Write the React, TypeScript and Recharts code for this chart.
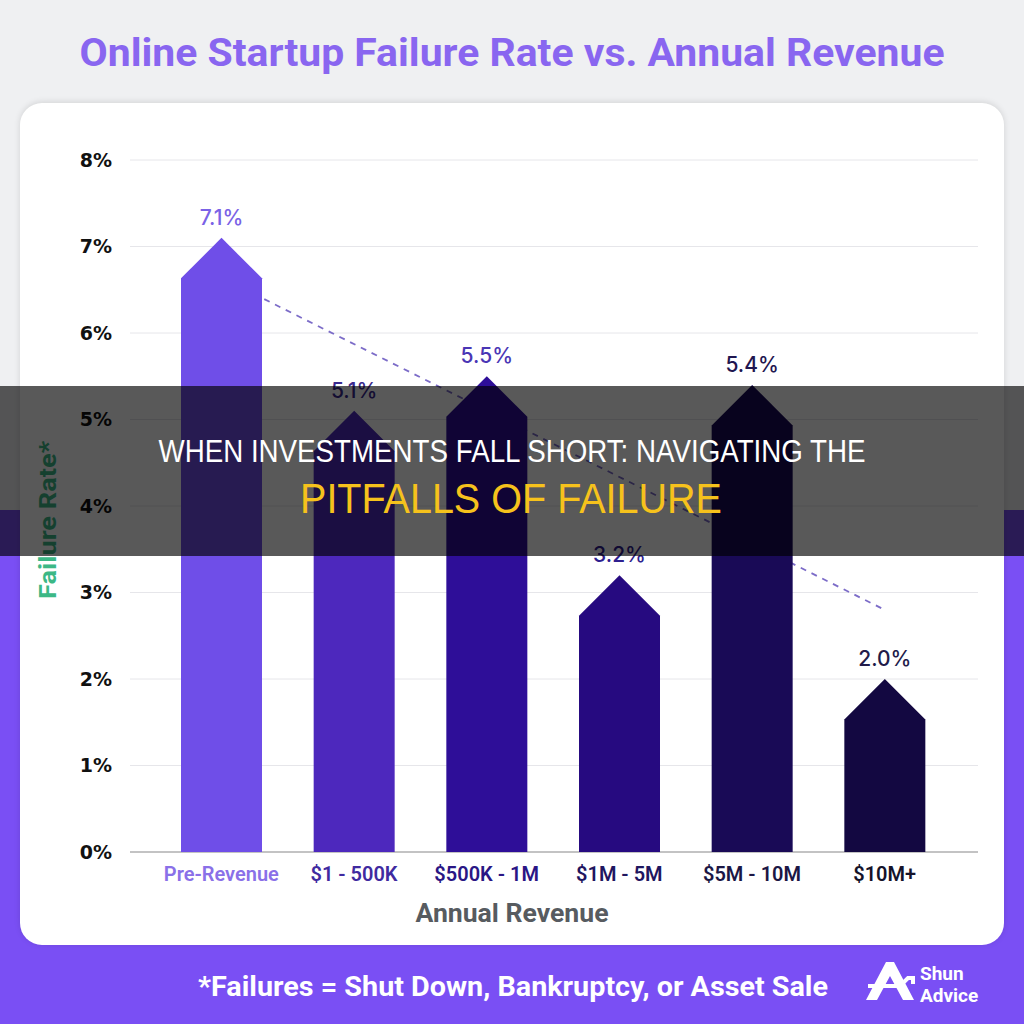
import {
  Bar,
  CartesianGrid,
  ComposedChart,
  LabelList,
  Line,
  XAxis,
  YAxis
} from 'recharts';

const categories = ['Pre-Revenue', '$1 - 500K', '$500K - 1M', '$1M - 5M', '$5M - 10M', '$10M+'];
const failureRates = [7.1, 5.1, 5.5, 3.2, 5.4, 2.0];
const trendValues = [6.64, null, null, null, null, 2.8];
const yTicks = [0, 1, 2, 3, 4, 5, 6, 7, 8];

const barColors = ['#6f4ee8', '#4d28bd', '#2e0e98', '#260a80', '#190a56', '#130841'];
const valueColors = ['#7a62e6', '#3b2a8f', '#4a36b5', '#2f1f90', '#1f1650', '#221b4a'];
const tickColors = ['#8a70e8', '#3f2aa0', '#2a1685', '#1f1660', '#1c1745', '#15132a'];

const data = categories.map((name, i) => ({
  name,
  rate: failureRates[i],
  trend: trendValues[i]
}));

const chartMargin = { top: 160, right: 46, bottom: 38, left: 0 };
const xPadding = { left: 25, right: 27 };

const ArrowBar = (props: any) => {
  const { x, y, width, height, index } = props;
  if (!width || height == null) return null;
  const half = width / 2;
  const bottom = y + height;
  const d = `M${x},${bottom} L${x},${y + half} L${x + half},${y} L${x + width},${y + half} L${x + width},${bottom} Z`;
  return <path d={d} fill={barColors[index]} />;
};

const ValueLabel = (props: any) => {
  const { x, y, width, value, index } = props;
  return (
    <text
      x={x + width / 2}
      y={y - 13}
      textAnchor="middle"
      fill={valueColors[index]}
      fontSize={21}
      fontWeight={500}
      fontFamily="Inter, sans-serif"
    >
      {Number(value).toFixed(1)}%
    </text>
  );
};

const CategoryTick = (props: any) => {
  const { x, y, payload, index } = props;
  return (
    <text
      x={x}
      y={y + 29}
      textAnchor="middle"
      fill={tickColors[index]}
      fontSize={20}
      fontWeight={600}
      fontFamily="Roboto, sans-serif"
    >
      {payload.value}
    </text>
  );
};

export default function App() {
  return (
    <div
      style={{
        position: 'absolute',
        left: 0,
        top: 0,
        width: 1024,
        height: 1024,
        overflow: 'hidden',
        background: 'linear-gradient(#eff0f2 0px, #eff0f2 510px, #7a4ff4 510px)'
      }}
    >
      <div
        style={{
          position: 'absolute',
          left: 20,
          top: 103,
          width: 984,
          height: 842,
          background: '#fff',
          borderRadius: 22,
          boxShadow: '0 -1px 6px rgba(0,0,0,0.12)'
        }}
      />
      {/* axes, grid and the trend line sit below the bars */}
      <div style={{ position: 'absolute', left: 0, top: 0 }}>
        <ComposedChart width={1024} height={960} data={data} margin={chartMargin}>
          <CartesianGrid vertical={false} stroke="#e6e6ea" />
          <YAxis
            width={130}
            domain={[0, 8]}
            ticks={yTicks}
            interval={0}
            tickFormatter={(v) => `${v}%`}
            axisLine={false}
            tickLine={false}
            tickSize={0}
            tickMargin={18}
            tick={{ fill: '#111', fontSize: 19, fontWeight: 700, fontFamily: 'DejaVu Sans' }}
            label={{
              content: (p: any) => {
                const vb = p.viewBox;
                const cy = vb.y + vb.height / 2 + 14;
                return (
                  <text
                    x={48}
                    y={cy}
                    transform={`rotate(-90, 48, ${cy})`}
                    textAnchor="middle"
                    dominantBaseline="central"
                    fill="#3cb886"
                    fontSize={24}
                    fontWeight={700}
                    fontFamily="Roboto, sans-serif"
                    textLength={158}
                    lengthAdjust="spacingAndGlyphs"
                  >
                    Failure Rate*
                  </text>
                );
              }
            }}
          />
          <XAxis
            dataKey="name"
            scale="band"
            height={70}
            interval={0}
            padding={xPadding}
            axisLine={{ stroke: '#b3b3b3', strokeWidth: 1.5 }}
            tickLine={false}
            tickSize={0}
            tickMargin={0}
            tick={<CategoryTick />}
            label={{
              content: (p: any) => {
                const vb = p.viewBox;
                return (
                  <text
                    x={512}
                    y={vb.y + 70}
                    textAnchor="middle"
                    fill="#575b60"
                    fontSize={26}
                    fontWeight={700}
                    fontFamily="Roboto, sans-serif"
                    textLength={193}
                    lengthAdjust="spacingAndGlyphs"
                  >
                    Annual Revenue
                  </text>
                );
              }
            }}
          />
          <Bar dataKey="rate" barSize={81} fill="transparent" isAnimationActive={false} />
          <Line
            dataKey="trend"
            connectNulls
            stroke="#7c6cc8"
            strokeWidth={1.8}
            strokeDasharray="6 6"
            dot={false}
            activeDot={false}
            isAnimationActive={false}
          />
        </ComposedChart>
      </div>
      <div style={{ position: 'absolute', left: 0, top: 0 }}>
        <ComposedChart width={1024} height={960} data={data} margin={chartMargin}>
          <YAxis width={130} domain={[0, 8]} ticks={yTicks} axisLine={false} tickLine={false} tick={false} />
          <XAxis
            dataKey="name"
            scale="band"
            height={70}
            padding={xPadding}
            axisLine={false}
            tickLine={false}
            tick={false}
          />
          <Bar dataKey="rate" barSize={81} shape={<ArrowBar />} isAnimationActive={false}>
            <LabelList dataKey="rate" content={<ValueLabel />} />
          </Bar>
        </ComposedChart>
      </div>
      <svg
        width={1024}
        height={1024}
        style={{ position: 'absolute', left: 0, top: 0, pointerEvents: 'none' }}
      >
        <text
          x={512}
          y={66}
          textAnchor="middle"
          fill="#8966f0"
          fontSize={39}
          fontWeight={700}
          fontFamily="Roboto, sans-serif"
          textLength={865}
          lengthAdjust="spacingAndGlyphs"
        >
          Online Startup Failure Rate vs. Annual Revenue
        </text>
        <rect x={0} y={386} width={1024} height={170} fill="rgba(0,0,0,0.65)" />
        <text
          x={512}
          y={462}
          textAnchor="middle"
          fill="#ffffff"
          fontSize={32}
          fontFamily="Liberation Sans, Arial, sans-serif"
          textLength={707}
          lengthAdjust="spacingAndGlyphs"
        >
          WHEN INVESTMENTS FALL SHORT: NAVIGATING THE
        </text>
        <text
          x={511}
          y={513}
          textAnchor="middle"
          fill="#f6c21c"
          fontSize={43}
          fontFamily="Liberation Sans, Arial, sans-serif"
          textLength={422}
          lengthAdjust="spacingAndGlyphs"
        >
          PITFALLS OF FAILURE
        </text>
        <text
          x={513}
          y={996}
          textAnchor="middle"
          fill="#ffffff"
          fontSize={28}
          fontWeight={700}
          fontFamily="Roboto, sans-serif"
          textLength={630}
          lengthAdjust="spacingAndGlyphs"
        >
          *Failures = Shut Down, Bankruptcy, or Asset Sale
        </text>
        <path
          d="M866,1000 L886,962 L894,962 L914,1000 L903,1000 L890,976 L877,1000 Z"
          fill="#ffffff"
        />
        <path d="M868,986 L900,986 L908,978 L913,978 L913,984" stroke="#ffffff" strokeWidth={4} fill="none" />
        <text x={920} y={980} fill="#ffffff" fontSize={19} fontWeight={700} fontFamily="Roboto, sans-serif">
          Shun
        </text>
        <text x={920} y={1002} fill="#ffffff" fontSize={19} fontWeight={700} fontFamily="Roboto, sans-serif">
          Advice
        </text>
      </svg>
    </div>
  );
}
